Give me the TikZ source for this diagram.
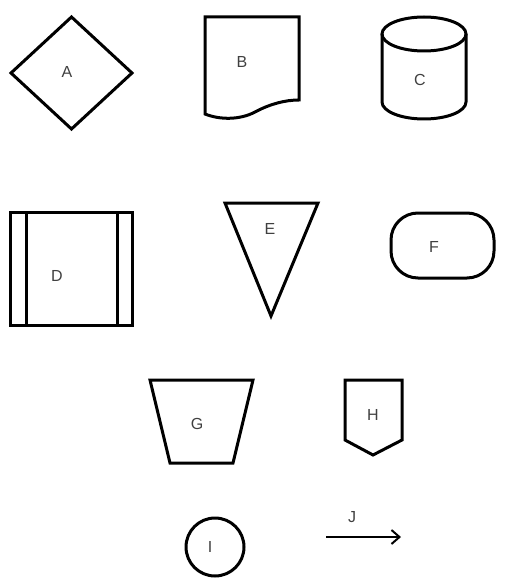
\documentclass[tikz,border=0pt]{standalone}
\usepackage{fontspec}
\setmainfont{Liberation Sans}
\usetikzlibrary{arrows.meta}
\tikzset{
  shp/.style={draw=black, line width=3pt, line join=miter},
  lbl/.style={font=\fontsize{16}{18}\selectfont, text=black!75, inner sep=0pt},
}
\begin{document}
\begin{tikzpicture}[x=1pt,y=-1pt]
\useasboundingbox (0,0) rectangle (505,580);
% A diamond
\draw[shp] (11,73) -- (71.5,17) -- (132,73) -- (71.5,129) -- cycle;
\node[lbl] (A) at (67,72) {A};
% B document
\draw[shp] (205,114) -- (205,17) -- (299,17) -- (299,100)
  .. controls (285,100) and (270,104) .. (255,112)
  .. controls (240,120) and (220,120) .. (205,114) -- cycle;
\node[lbl] (B) at (242,62) {B};
% C cylinder
\draw[shp] (424,34) ellipse (42 and 17);
\draw[shp] (382,34) -- (382,102)
  .. controls (382,111.4) and (400.8,119) .. (424,119)
  .. controls (447.2,119) and (466,111.4) .. (466,102) -- (466,34);
\node[lbl] (C) at (420,80) {C};
% D
\draw[shp] (10,212) rectangle (132,325);
\draw[shp] (26,212) -- (26,325);
\draw[shp] (117,212) -- (117,325);
\node[lbl] (D) at (57,276) {D};
% E
\draw[shp] (225,203) -- (318,203) -- (271,316) -- cycle;
\node[lbl] (E) at (270,229) {E};
% F
\draw[shp, rounded corners=27pt] (391,213) rectangle (494,278);
\node[lbl] (F) at (434,247) {F};
% G
\draw[shp] (150,380) -- (253,380) -- (233,463) -- (170,463) -- cycle;
\node[lbl] (G) at (197,424) {G};
% H
\draw[shp] (345,380) -- (402,380) -- (402,440) -- (373,455) -- (345,440) -- cycle;
\node[lbl] (H) at (373,415) {H};
% I
\draw[shp] (215,547) circle (29);
\node[lbl] (I) at (210,547) {I};
% J
\coordinate (j1) at (326,537);
\coordinate (j2) at (401,537);
\draw[line width=2pt, -{Straight Barb[length=8pt,width=14pt]}] (j1) -- (j2);
\node[lbl] (J) at (352,517) {J};
\end{tikzpicture}
\end{document}
